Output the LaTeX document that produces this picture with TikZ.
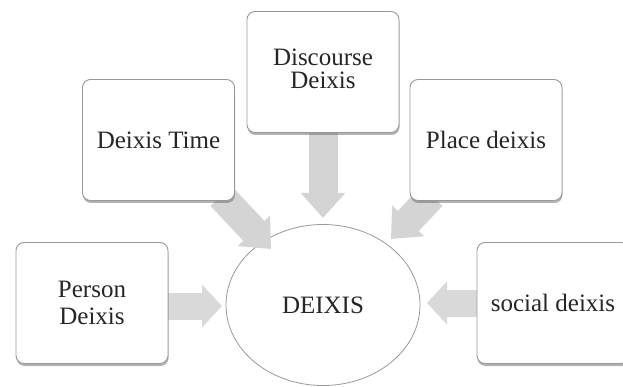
\documentclass[tikz,border=0pt]{standalone}
\usepackage{fontspec}
\setmainfont{Liberation Serif}
\usetikzlibrary{arrows.meta,shadows,shapes.geometric}
\begin{document}
\begin{tikzpicture}[x=1pt,y=-1pt,
  box/.style={draw=black!40, line width=0.9pt, rounded corners=8pt, fill=white,
    minimum width=152pt, minimum height=121pt, align=center,
    font=\fontsize{25}{24}\selectfont, text=black!85,
    drop shadow={shadow xshift=0.5pt, shadow yshift=-2.5pt, fill=black!60, opacity=0.5}},
  bigarrow/.style={line width=29pt, draw=black!17, -{Triangle[width=43pt,length=25pt]}},
  sidearrow/.style={line width=27pt, draw=black!15, -{Triangle[width=42pt,length=20pt]}}]
\useasboundingbox (0,0) rectangle (623,387);
% target coordinates for arrow tips
\coordinate (tipD) at (323,218);
\coordinate (tipT) at (271,249);
\coordinate (tipP) at (391,239);
\coordinate (tailT) at (221,196);
\coordinate (tailP) at (432,196);
\coordinate (tipPer) at (222,306);
\coordinate (tipS) at (427,303);
% central ellipse
\node[ellipse, draw=black!40, line width=0.8pt, fill=white, minimum width=194pt, minimum height=161pt,
  font=\fontsize{25}{24}\selectfont, text=black!85] (deixis) at (323,305) {DEIXIS};
% arrows (under the boxes)
\draw[bigarrow] (323,128) -- (tipD);
\draw[bigarrow] (tailT) -- (tipT);
\draw[bigarrow] (tailP) -- (tipP);
\draw[sidearrow] (160,306) -- (tipPer);
\draw[sidearrow] (488,303) -- (tipS);
% boxes
\node[box] (disc) at (323,72) {\raisebox{-6pt}{\begin{tabular}{@{}c@{}}Discourse\\[-1pt]Deixis\end{tabular}}};
\node[box] (time) at (158.5,140) {Deixis Time};
\node[box] (place) at (486,140) {Place deixis};
\node[box, font=\fontsize{25}{27}\selectfont] (person) at (92,303) {Person\\Deixis};
\node[box] (social) at (553,303) {social deixis};
\end{tikzpicture}
\end{document}
